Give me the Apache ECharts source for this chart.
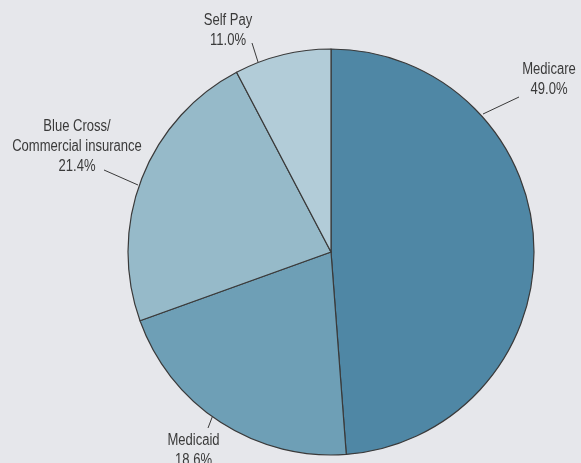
<!DOCTYPE html>
<html>
<head>
<meta charset="utf-8">
<script src="https://cdn.jsdelivr.net/npm/echarts@6/dist/echarts.min.js"></script>
<style>
html,body{margin:0;padding:0;background:#e6e7eb;}
#c{width:581px;height:463px;}
</style>
</head>
<body>
<div id="c"></div>
<script>
// Categories and values
const categories = ['Medicare', 'Medicaid', 'Blue Cross/\nCommercial insurance', 'Self Pay'];
// Printed shares (label text)
const printedShares = [49.0, 18.6, 21.4, 11.0];
// Slice sizes as drawn in the reference
const drawnShares = [48.8, 20.7, 22.8, 7.7];

const colors = ['#4f87a5', '#6e9fb6', '#96bac9', '#b2ccd8'];
const textColor = '#3a3a3a';

// Label placement (layout only): text center x, text top y, leader line ends
const labelLayoutCfg = [
  {x: 549, y: 59.5, line: [483, 114, 519, 97]},
  {x: 193.5, y: 430.5, line: [213, 415, 208, 428]},
  {x: 77, y: 116.5, line: [138, 185, 104, 170]},
  {x: 228, y: 10.8, line: [258, 62, 252, 43]}
];

const graphics = [];
categories.forEach((name, i) => {
  const c = labelLayoutCfg[i];
  graphics.push({
    type: 'text',
    x: c.x, y: c.y,
    scaleX: 0.815,
    silent: true,
    style: {
      text: name + '\n' + printedShares[i].toFixed(1) + '%',
      fill: textColor,
      fontFamily: "'Liberation Sans', Arial, sans-serif",
      fontSize: 16,
      lineHeight: 20,
      align: 'center',
      textAlign: 'center',
      verticalAlign: 'top',
      textVerticalAlign: 'top'
    }
  });
  graphics.push({
    type: 'line',
    silent: true,
    shape: {x1: c.line[0], y1: c.line[1], x2: c.line[2], y2: c.line[3]},
    style: {stroke: textColor, lineWidth: 1}
  });
});

const chart = echarts.init(document.getElementById('c'), null, {renderer: 'canvas'});
chart.setOption({
  backgroundColor: '#e6e7eb',
  animation: false,
  graphic: graphics,
  series: [{
    type: 'pie',
    center: [331, 252],
    radius: [0, 203],
    startAngle: 90,
    clockwise: true,
    data: categories.map((name, i) => ({
      name: name,
      value: drawnShares[i],
      itemStyle: {color: colors[i]}
    })),
    itemStyle: {borderColor: '#3a3a3a', borderWidth: 1.2},
    label: {show: false},
    labelLine: {show: false},
    emphasis: {disabled: true}
  }]
});
</script>
</body>
</html>
